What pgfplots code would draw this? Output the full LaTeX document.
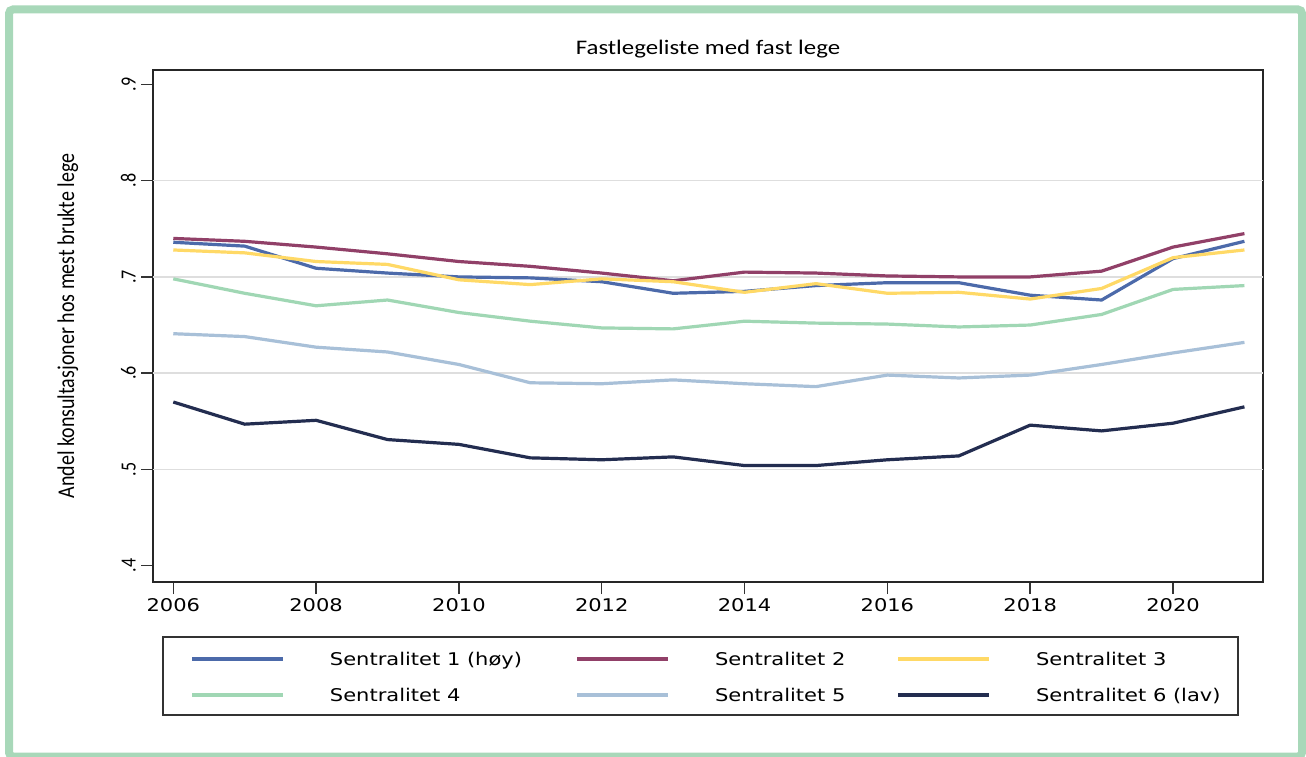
\documentclass[border=0pt]{standalone}
\usepackage{fontspec}
\usepackage{graphicx}
\usepackage{pgfplots}
\pgfplotsset{compat=1.18}
\setmainfont{Carlito}
\newfontfamily\cb{Carlito}[FakeStretch=1.2]
\newfontfamily\cbn{Carlito}
\newfontfamily\dv{DejaVu Sans}[FakeStretch=1.2]
\definecolor{frame}{RGB}{168,216,185}
\definecolor{c1}{RGB}{76,106,170}
\definecolor{c2}{RGB}{145,64,104}
\definecolor{c3}{RGB}{255,217,102}
\definecolor{c4}{RGB}{160,215,180}
\definecolor{c5}{RGB}{168,192,216}
\definecolor{c6}{RGB}{35,45,80}
\newcommand\sy[1]{\scalebox{1}[1.2]{\cbn\fontsize{18pt}{20pt}\selectfont #1}}

\pgfplotstableread{
year s1 s2 s3 s4 s5 s6
2006 .736 .740 .728 .698 .641 .570
2007 .732 .737 .725 .683 .638 .547
2008 .709 .731 .716 .670 .627 .551
2009 .704 .724 .713 .676 .622 .531
2010 .700 .716 .697 .663 .609 .526
2011 .699 .711 .692 .654 .590 .512
2012 .695 .704 .698 .647 .589 .510
2013 .683 .696 .695 .646 .593 .513
2014 .685 .705 .684 .654 .589 .504
2015 .691 .704 .693 .652 .586 .504
2016 .694 .701 .683 .651 .598 .510
2017 .694 .700 .684 .648 .595 .514
2018 .681 .700 .677 .650 .598 .546
2019 .676 .706 .688 .661 .609 .540
2020 .719 .731 .720 .687 .621 .548
2021 .737 .745 .728 .691 .632 .565
}\data

\begin{document}
\begin{tikzpicture}[x=1pt,y=1pt]
\useasboundingbox (0,0) rectangle (1306,756);
\fill[white] (0,0) rectangle (1306,756);
\draw[line width=8pt, color=frame, rounded corners=4pt] (9,-0.5) rectangle (1302,746.5);
\begin{axis}[
  at={(153pt,174pt)}, anchor=south west,
  width=1110pt, height=512pt, scale only axis,
  xmin=2005.716, xmax=2021.26, ymin=0.383, ymax=0.915,
  xtick={2006,2008,...,2020},
  ytick={0.4,0.5,0.6,0.7,0.8,0.9},
  yticklabels={{\sy{.4}},{\sy{.5}},{\sy{.6}},{\sy{.7}},{\sy{.8}},{\sy{.9}}},
  extra y ticks={0.5,0.6,0.7,0.8},
  extra y tick labels={},
  extra y tick style={grid=major, major tick length=0pt, major grid style={line width=1.5pt, color=black!13}},
  /pgf/number format/1000 sep={},
  /pgf/number format/assume math mode=true,
  tick align=outside, xtick pos=bottom, ytick pos=left,
  major tick length=12pt,
  tick style={line width=1.5pt, color=black!80},
  axis line style={line width=2pt, color=black!85},
  xticklabel style={font=\dv\fontsize{17.5pt}{20pt}\selectfont, inner sep=0pt, yshift=-4pt},
  yticklabel style={xshift=-5pt, rotate=90, anchor=south, inner sep=0pt},
  title={Fastlegeliste med fast lege},
  title style={font=\cb\fontsize{20.7pt}{24pt}\selectfont, at={(axis description cs:0.5,1)}, anchor=base, yshift=9pt, inner sep=0pt},
  ylabel={\scalebox{1}[1.2]{\cbn\fontsize{20pt}{24pt}\selectfont Andel konsultasjoner hos mest brukte lege}},
  ylabel style={at={(axis description cs:-0.0766,0.5)}, anchor=center, inner sep=0pt},
  legend columns=3,
  legend style={at={(axis description cs:0,0)}, anchor=north west, xshift=9pt, yshift=-54pt,
    draw=black!80, line width=2pt, inner xsep=27pt, inner ysep=10pt, row sep=14pt,
    font=\dv\fontsize{17.5pt}{20pt}\selectfont,
    nodes={inner sep=0pt, text height=18pt, text depth=4pt},
    /tikz/every odd column/.style={column sep=45pt},
    /tikz/every even column/.style={column sep=20pt}},
  legend image code/.code={\draw[#1, line width=4pt] (0pt,-0.6pt) -- (91pt,-0.6pt);},
  every axis plot/.append style={line width=3.2pt},
]
\addplot[c1, no marks] table[x=year, y=s1] {\data};
\addlegendentry{\makebox[225pt][l]{Sentralitet 1 (høy)}}
\addplot[c2, no marks] table[x=year, y=s2] {\data};
\addlegendentry{\makebox[161pt][l]{Sentralitet 2}}
\addplot[c3, no marks] table[x=year, y=s3] {\data};
\addlegendentry{\makebox[175pt][l]{Sentralitet 3}}
\addplot[c4, no marks] table[x=year, y=s4] {\data};
\addlegendentry{\makebox[225pt][l]{Sentralitet 4}}
\addplot[c5, no marks] table[x=year, y=s5] {\data};
\addlegendentry{\makebox[161pt][l]{Sentralitet 5}}
\addplot[c6, no marks] table[x=year, y=s6] {\data};
\addlegendentry{\makebox[175pt][l]{Sentralitet 6 (lav)}}
\end{axis}
\end{tikzpicture}
\end{document}
